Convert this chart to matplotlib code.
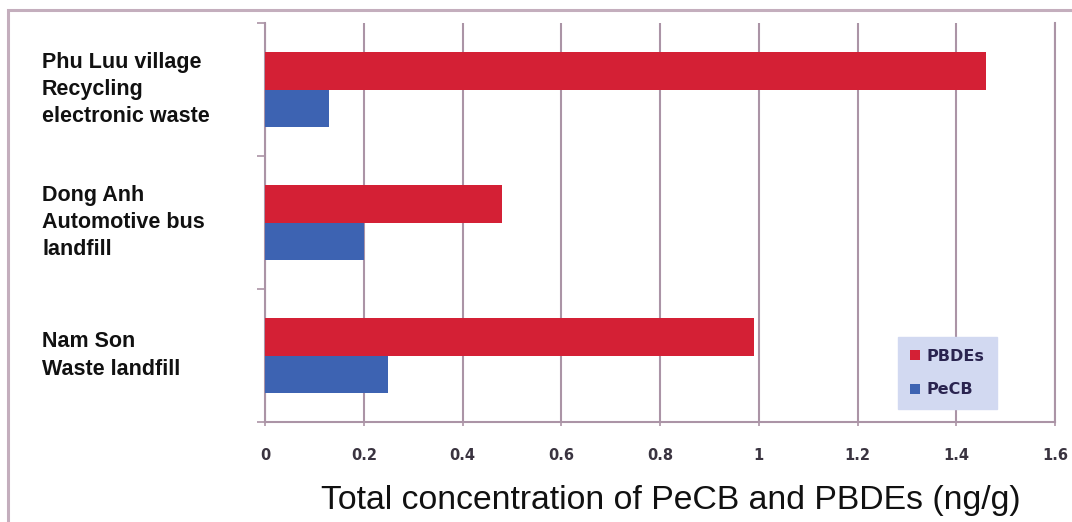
import matplotlib
matplotlib.use("Agg")
import matplotlib.pyplot as plt
import matplotlib.transforms as mtransforms
from matplotlib.patches import Rectangle
import numpy as np

categories = ["Phu Luu village\nRecycling\nelectronic waste",
              "Dong Anh\nAutomotive bus\nlandfill",
              "Nam Son\nWaste landfill"]
pbdes = [1.46, 0.48, 0.99]
pecb = [0.13, 0.20, 0.25]
xticks = [0, 0.2, 0.4, 0.6, 0.8, 1.0, 1.2, 1.4, 1.6]
xticklabels = ["0", "0.2", "0.4", "0.6", "0.8", "1", "1.2", "1.4", "1.6"]
series_names = ["PBDEs", "PeCB"]

red = "#d42035"
blue = "#3d63b2"
grid_c = "#ab94a6"

W, H = 1072, 522
fig = plt.figure(figsize=(W / 100, H / 100), dpi=100)
fig.patch.set_facecolor("white")

# outer frame (left & top edges visible)
fig.add_artist(Rectangle((8 / W, -0.1), 1.2, 1 - 10 / H + 0.1, transform=fig.transFigure,
                         fill=False, edgecolor="#c4aebd", linewidth=2.2))

ax = fig.add_axes([265 / W, 1 - 422 / H, (1055 - 265) / W, (422 - 23) / H])

n = len(categories)
centers = np.arange(n)  # 0 top
bh = 0.285
ax.barh(centers - bh / 2, pbdes, height=bh, color=red, label=series_names[0], zorder=3)
ax.barh(centers + bh / 2, pecb, height=bh, color=blue, label=series_names[1], zorder=3)

ax.set_ylim(n - 0.5, -0.5)
ax.set_xlim(0, 1.6)
ax.set_yticks(np.arange(n + 1) - 0.5)
ax.set_yticklabels([])
ax.tick_params(axis="y", length=6, width=1.2, color=grid_c, direction="out")
ax.set_xticks(xticks)
ax.set_xticklabels(xticklabels, fontsize=10.5, color="#3a3440", fontweight="bold",
                   family="DejaVu Sans")
ax.tick_params(axis="x", length=6, width=1.2, color=grid_c, direction="inout", pad=16)
ax.grid(axis="x", color=grid_c, linewidth=1.5, zorder=0)

ax.spines["top"].set_visible(False)
for s in ["left", "bottom", "right"]:
    ax.spines[s].set_color(grid_c)
    ax.spines[s].set_linewidth(1.5)

trans = mtransforms.blended_transform_factory(fig.transFigure, ax.transData)
for c, lab in zip(centers, categories):
    ax.text(42 / W, c, lab, transform=trans, ha="left", va="center",
            fontsize=15.5, fontweight="bold", family="Liberation Sans",
            color="#111111", linespacing=1.38)

ax.set_xlabel("Total concentration of PeCB and PBDEs (ng/g)", fontsize=24.3,
              family="Liberation Sans", color="#111111")
ax.xaxis.set_label_coords((671 - 265) / (1055 - 265), -0.158)
ax.xaxis.label.set_va("top")

leg = ax.legend(loc="upper left", bbox_to_anchor=(898 / W, 1 - 337 / H),
                bbox_transform=fig.transFigure, frameon=True, fancybox=False,
                prop={"family": "DejaVu Sans", "size": 11.5, "weight": "bold"},
                handlelength=0.6, handleheight=0.6, handletextpad=0.45,
                labelspacing=1.15, borderpad=0.75, borderaxespad=0,
                labelcolor="#2a2450")
leg.get_frame().set_facecolor("#d2d9f1")
leg.get_frame().set_edgecolor("#d2d9f1")
leg.get_frame().set_alpha(1)
leg.set_zorder(5)

fig.savefig("out.png", dpi=100)
